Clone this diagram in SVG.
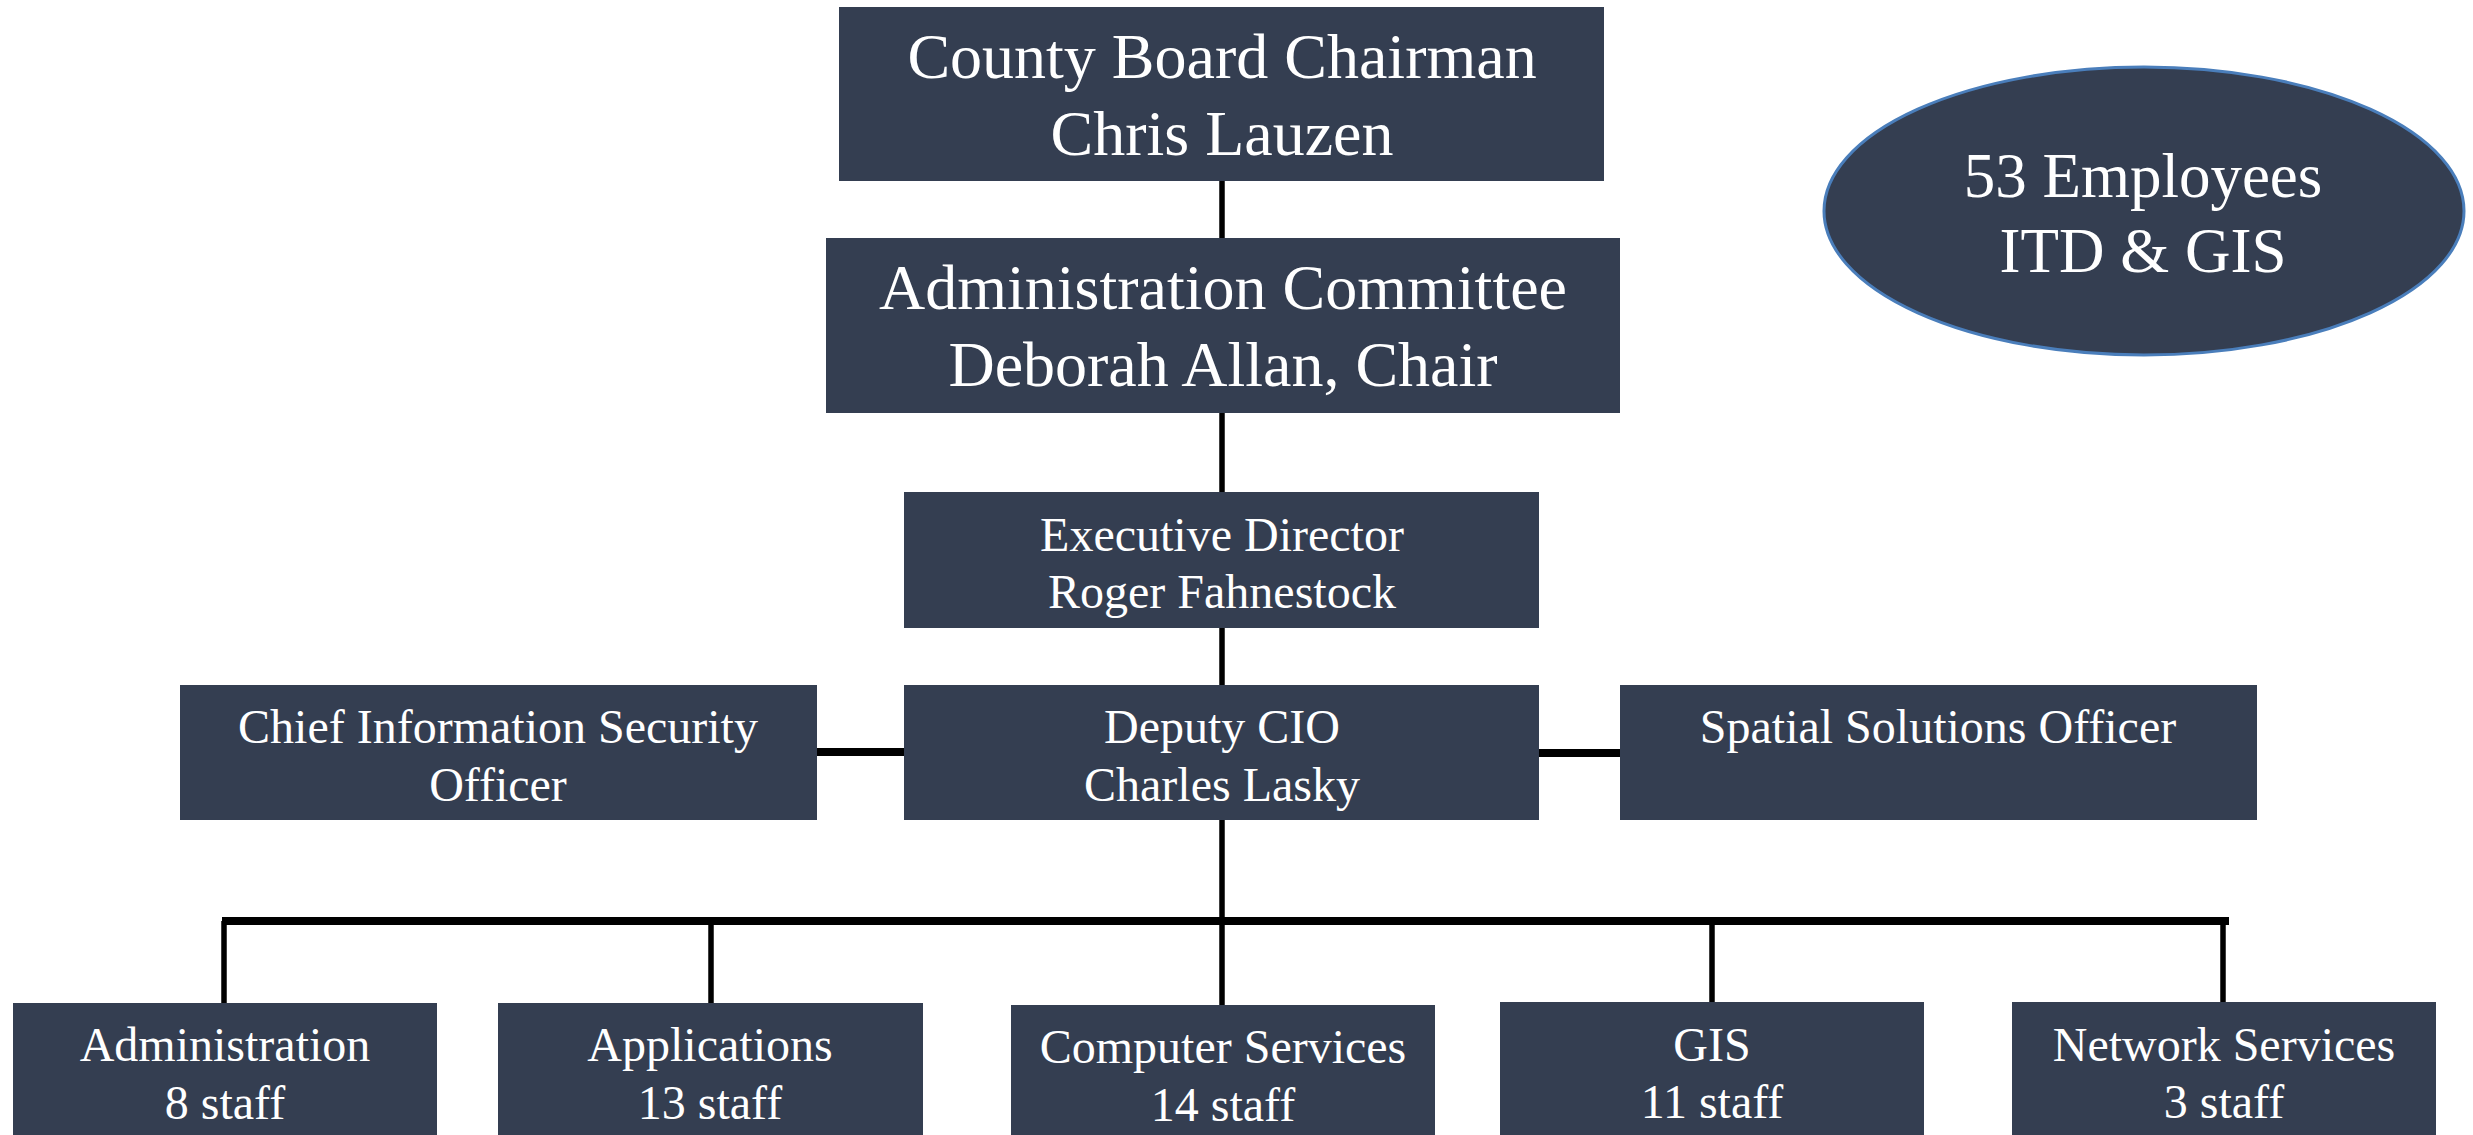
<svg xmlns="http://www.w3.org/2000/svg" width="2473" height="1135" viewBox="0 0 2473 1135">
<style>
.box{fill:#343e51}
.t{font-family:"Liberation Serif","Times New Roman",serif;fill:#ffffff;text-anchor:middle}
.lg{font-size:64px}
.md{font-size:48px}
.ln{stroke:#000000;stroke-width:5.5;fill:none}
.th{stroke:#000000;stroke-width:8;fill:none}
</style>
<rect width="2473" height="1135" fill="#ffffff"/>
<g id="connectors">
<line class="ln" x1="1222" y1="181" x2="1222" y2="238"/>
<line class="ln" x1="1222" y1="413" x2="1222" y2="492"/>
<line class="ln" x1="1222" y1="628" x2="1222" y2="685"/>
<line class="ln" x1="1222" y1="820" x2="1222" y2="1005"/>
<line class="th" x1="817" y1="752" x2="904" y2="752"/>
<line class="th" x1="1539" y1="753" x2="1620" y2="753"/>
<line class="th" x1="222" y1="921" x2="2229" y2="921"/>
<line class="ln" x1="224" y1="921" x2="224" y2="1003"/>
<line class="ln" x1="711" y1="921" x2="711" y2="1003"/>
<line class="ln" x1="1712" y1="921" x2="1712" y2="1002"/>
<line class="ln" x1="2223" y1="921" x2="2223" y2="1002"/>
</g>
<g id="county-board">
<rect class="box" x="839" y="7" width="765" height="174"/>
<text class="t lg" x="1222" y="78">County Board Chairman</text>
<text class="t lg" x="1222" y="155">Chris Lauzen</text>
</g>
<g id="admin-committee">
<rect class="box" x="826" y="238" width="794" height="175"/>
<text class="t lg" x="1223" y="309">Administration Committee</text>
<text class="t lg" x="1223" y="386">Deborah Allan, Chair</text>
</g>
<g id="employees">
<ellipse cx="2144" cy="211" rx="320" ry="144" fill="#343e51" stroke="#4a7ebb" stroke-width="3"/>
<text class="t" style="font-size:63px" x="2143" y="197">53 Employees</text>
<text class="t" style="font-size:63px" x="2143" y="272">ITD &amp; GIS</text>
</g>
<g id="executive-director">
<rect class="box" x="904" y="492" width="635" height="136"/>
<text class="t md" x="1222" y="551">Executive Director</text>
<text class="t md" x="1222" y="608">Roger Fahnestock</text>
</g>
<g id="ciso">
<rect class="box" x="180" y="685" width="637" height="135"/>
<text class="t md" x="498" y="743">Chief Information Security</text>
<text class="t md" x="498" y="801">Officer</text>
</g>
<g id="deputy-cio">
<rect class="box" x="904" y="685" width="635" height="135"/>
<text class="t md" x="1222" y="743">Deputy CIO</text>
<text class="t md" x="1222" y="801">Charles Lasky</text>
</g>
<g id="spatial">
<rect class="box" x="1620" y="685" width="637" height="135"/>
<text class="t md" x="1938" y="743">Spatial Solutions Officer</text>
</g>
<g id="administration">
<rect class="box" x="13" y="1003" width="424" height="140"/>
<text class="t md" x="225" y="1061">Administration</text>
<text class="t md" x="225" y="1119">8 staff</text>
</g>
<g id="applications">
<rect class="box" x="498" y="1003" width="425" height="140"/>
<text class="t md" x="710" y="1061">Applications</text>
<text class="t md" x="710" y="1119">13 staff</text>
</g>
<g id="computer-services">
<rect class="box" x="1011" y="1005" width="424" height="140"/>
<text class="t md" x="1223" y="1063">Computer Services</text>
<text class="t md" x="1223" y="1121">14 staff</text>
</g>
<g id="gis">
<rect class="box" x="1500" y="1002" width="424" height="140"/>
<text class="t md" x="1712" y="1061">GIS</text>
<text class="t md" x="1712" y="1118">11 staff</text>
</g>
<g id="network-services">
<rect class="box" x="2012" y="1002" width="424" height="140"/>
<text class="t md" x="2224" y="1061">Network Services</text>
<text class="t md" x="2224" y="1118">3 staff</text>
</g>
</svg>
